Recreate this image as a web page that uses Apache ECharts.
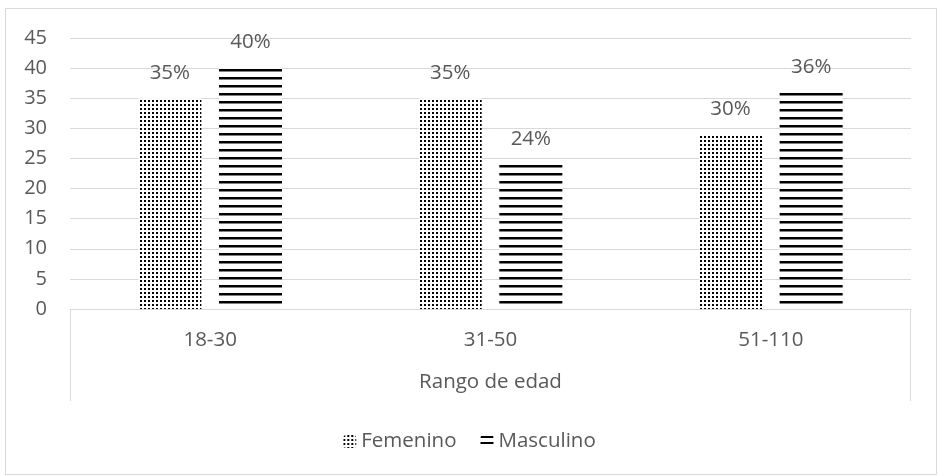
<!DOCTYPE html>
<html>
<head>
<meta charset="utf-8">
<script src="https://cdn.jsdelivr.net/npm/echarts@6/dist/echarts.min.js"></script>
<style>html,body{margin:0;padding:0;background:#fff}#c{width:939px;height:476px}</style>
</head>
<body>
<div id="c"></div>
<script>
var categories = ['18-30', '31-50', '51-110'];
var femenino = [35, 35, 29];
var masculino = [40, 24, 36];
var femeninoLabels = ['35%', '35%', '30%'];
var masculinoLabels = ['40%', '24%', '36%'];
var yTicks = { min: 0, max: 45, interval: 5 };
var axisTitle = 'Rango de edad';
var seriesNames = ['Femenino', 'Masculino'];

function dotPattern() {
  var c = document.createElement('canvas');
  c.width = 4; c.height = 4;
  var g = c.getContext('2d');
  g.fillStyle = '#fff'; g.fillRect(0, 0, 4, 4);
  g.fillStyle = '#000'; g.fillRect(0, 0, 2, 2);
  return c;
}
function linePattern(h, t, off) {
  var c = document.createElement('canvas');
  c.width = 8; c.height = h;
  var g = c.getContext('2d');
  g.fillStyle = '#fff'; g.fillRect(0, 0, 8, h);
  g.fillStyle = '#000'; g.fillRect(0, off, 8, t);
  return c;
}
var FONT = '"Open Sans", "Noto Sans", sans-serif';
var GRAY = '#595959';
var LINE = '#d9d9d9';
var FS = 20.5;

var chart = echarts.init(document.getElementById('c'), null, { renderer: 'canvas' });
chart.setOption({
  animation: false,
  backgroundColor: '#fff',
  textStyle: { fontFamily: FONT },
  grid: { left: 70, right: 28, top: 38, bottom: 167, containLabel: false },
  legend: {
    top: 426, left: 'center', itemWidth: 13, itemHeight: 13, itemGap: 24,
    textStyle: { color: GRAY, fontSize: FS, fontFamily: FONT },
    data: [
      { name: seriesNames[0] },
      { name: seriesNames[1], itemStyle: { color: { image: linePattern(6, 2, 1), repeat: 'repeat' } } }
    ]
  },
  xAxis: {
    type: 'category', data: categories,
    axisLine: { lineStyle: { color: LINE, width: 1 } },
    axisTick: { show: false },
    axisLabel: { color: GRAY, fontSize: FS, margin: 21, fontFamily: FONT },
    name: axisTitle, nameLocation: 'middle', nameGap: 63,
    nameTextStyle: { color: GRAY, fontSize: FS, fontFamily: FONT }
  },
  yAxis: {
    type: 'value', min: yTicks.min, max: yTicks.max, interval: yTicks.interval,
    axisLine: { show: false }, axisTick: { show: false },
    axisLabel: { color: GRAY, fontSize: 20, margin: 23, fontFamily: FONT },
    splitLine: { lineStyle: { color: LINE, width: 1 } }
  },
  graphic: [
    { type: 'rect', shape: { x: 5.5, y: 8.5, width: 931, height: 466 }, style: { fill: 'none', stroke: LINE, lineWidth: 1 }, silent: true },
    { type: 'line', shape: { x1: 70.5, y1: 309, x2: 70.5, y2: 401 }, style: { stroke: LINE, lineWidth: 1 }, silent: true },
    { type: 'line', shape: { x1: 910.5, y1: 309, x2: 910.5, y2: 401 }, style: { stroke: LINE, lineWidth: 1 }, silent: true }
  ],
  series: [
    {
      name: seriesNames[0], type: 'bar', data: femenino, barWidth: 63, barGap: '28%',
      itemStyle: { color: { image: dotPattern(), repeat: 'repeat' } },
      label: { show: true, position: 'top', distance: 15, color: GRAY, fontSize: FS, fontFamily: FONT,
        formatter: function (p) { return femeninoLabels[p.dataIndex]; } }
    },
    {
      name: seriesNames[1], type: 'bar', data: masculino, barWidth: 63, barGap: '28%',
      itemStyle: { color: { image: linePattern(8, 2.5, 5), repeat: 'repeat' } },
      label: { show: true, position: 'top', distance: 15, color: GRAY, fontSize: FS, fontFamily: FONT,
        formatter: function (p) { return masculinoLabels[p.dataIndex]; } }
    }
  ]
});
</script>
</body>
</html>
